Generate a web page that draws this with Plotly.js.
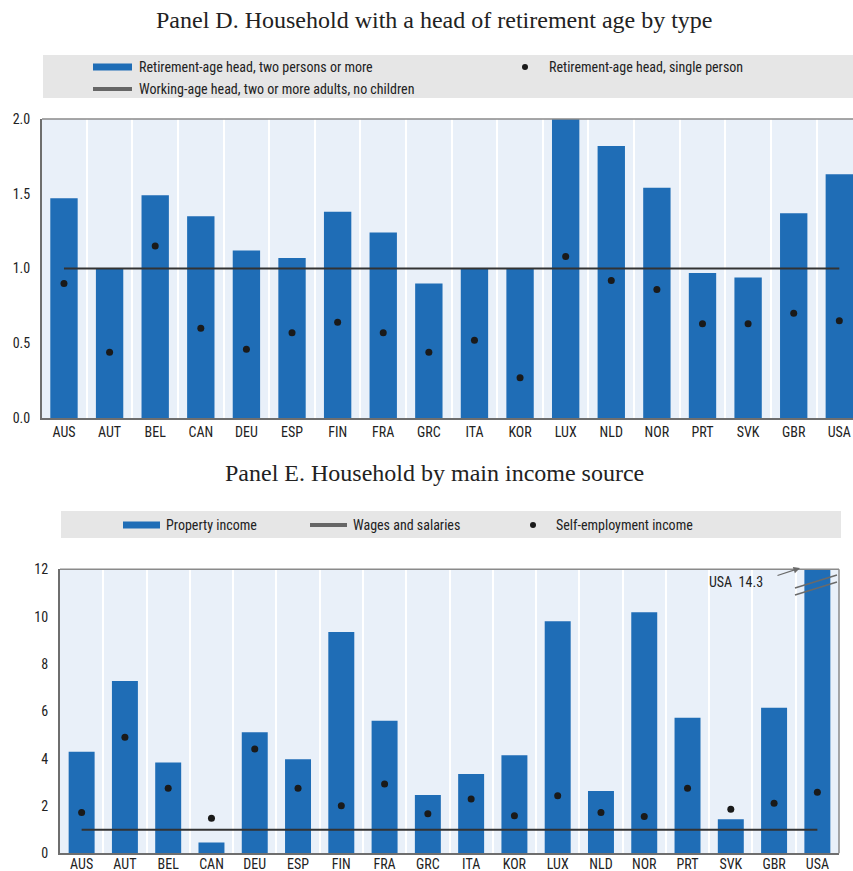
<!DOCTYPE html>
<html>
<head>
<meta charset="utf-8">
<script src="https://cdn.plot.ly/plotly-3.0.1.min.js"></script>
<style>html,body{margin:0;padding:0;background:#fff}#chart{width:853px;height:871px}</style>
</head>
<body>
<div id="chart"></div>
<script>
// ---- Data ----
const countries = ["AUS","AUT","BEL","CAN","DEU","ESP","FIN","FRA","GRC","ITA","KOR","LUX","NLD","NOR","PRT","SVK","GBR","USA"];

// Panel D
const retTwoPlus = [1.47,1.00,1.49,1.35,1.12,1.07,1.38,1.24,0.90,1.00,1.00,2.00,1.82,1.54,0.97,0.94,1.37,1.63];
const retSingle  = [0.90,0.44,1.15,0.60,0.46,0.57,0.64,0.57,0.44,0.52,0.27,1.08,0.92,0.86,0.63,0.63,0.70,0.65];
const workingAgeRef = [1,1,1,1,1,1,1,1,1,1,1,1,1,1,1,1,1,1];

// Panel E
const propertyIncome = [4.29,7.28,3.84,0.46,5.11,3.97,9.35,5.60,2.46,3.35,4.14,9.81,2.63,10.18,5.73,1.44,6.15,14.3];
const selfEmployment = [1.72,4.90,2.75,1.48,4.41,2.75,2.01,2.93,1.67,2.29,1.59,2.43,1.72,1.55,2.75,1.86,2.11,2.58];
const wagesRef = [1,1,1,1,1,1,1,1,1,1,1,1,1,1,1,1,1,1];

const titleD = "Panel D. Household with a head of retirement age by type";
const titleE = "Panel E. Household by main income source";
const legD = ["Retirement-age head, two persons or more","Working-age head, two or more adults, no children","Retirement-age head, single person"];
const legE = ["Property income","Wages and salaries","Self-employment income"];
const yTicksD = [0,0.5,1,1.5,2];
const yTicksE = [0,2,4,6,8,10,12];

// ---- Styling ----
const W = 853, H = 871;
const px = x => x / W;
const py = y => 1 - y / H;
const BLUE = "#1f6db6";
const DOT = "#1a1a1a";
const LINE = "#333333";
const SANS = "'Liberation Sans Narrow','Arial Narrow','Roboto Condensed','Liberation Sans',Arial,sans-serif";
const SERIF = "'Liberation Serif','Times New Roman',serif";
const FS = 14;

const traces = [
  {type:"bar", x:countries, y:retTwoPlus, xaxis:"x", yaxis:"y", marker:{color:BLUE}, width:0.6, showlegend:false, name:legD[0]},
  {type:"scatter", mode:"lines", x:countries, y:workingAgeRef, xaxis:"x", yaxis:"y", line:{color:LINE, width:2}, showlegend:false, name:legD[1]},
  {type:"scatter", mode:"markers", x:countries, y:retSingle, xaxis:"x", yaxis:"y", marker:{color:DOT, size:7}, showlegend:false, name:legD[2]},
  {type:"bar", x:countries, y:propertyIncome, xaxis:"x2", yaxis:"y2", marker:{color:BLUE}, width:0.6, showlegend:false, name:legE[0]},
  {type:"scatter", mode:"lines", x:countries, y:wagesRef, xaxis:"x2", yaxis:"y2", line:{color:LINE, width:2}, showlegend:false, name:legE[1]},
  {type:"scatter", mode:"markers", x:countries, y:selfEmployment, xaxis:"x2", yaxis:"y2", marker:{color:DOT, size:7}, showlegend:false, name:legE[2]}
];

const xCommon = {
  type:"category", showgrid:true, gridcolor:"#ffffff", gridwidth:2, tickson:"boundaries",
  ticks:"", showline:true, linecolor:"#6e6e6e", linewidth:2, mirror:false,
  tickfont:{family:SANS, size:FS, color:"#222"}, zeroline:false, fixedrange:true
};
const yCommon = {
  showgrid:false, zeroline:false, ticks:"", showline:true, linecolor:"#6e6e6e", linewidth:2,
  tickfont:{family:SANS, size:FS, color:"#222"}, fixedrange:true, ticklabelstandoff:7
};

const layout = {
  width:W, height:H, margin:{l:0,r:0,t:0,b:0}, paper_bgcolor:"#ffffff", plot_bgcolor:"#e9f0f9",
  showlegend:false, bargap:0.4,
  xaxis:Object.assign({}, xCommon, {domain:[px(42), 1], range:[-0.482, 17.30], anchor:"y"}),
  yaxis:Object.assign({}, yCommon, {domain:[py(418), py(119)], range:[0,2], tickvals:yTicksD, tickformat:".1f", anchor:"x"}),
  xaxis2:Object.assign({}, xCommon, {domain:[px(60), px(839)], range:[-0.5, 17.5], anchor:"y2", ticklabelstandoff:-3}),
  yaxis2:Object.assign({}, yCommon, {domain:[py(853.3), py(569.3)], range:[0,12], tickvals:yTicksE, anchor:"x2"}),
  shapes:[
    // frame top/right
    {type:"line", xref:"paper", yref:"paper", x0:px(42), x1:1, y0:py(119), y1:py(119), line:{color:"#8a8a8a", width:1.5}},
    {type:"line", xref:"paper", yref:"paper", x0:px(60), x1:px(839), y0:py(569.3), y1:py(569.3), line:{color:"#8a8a8a", width:1.5}},
    {type:"line", xref:"paper", yref:"paper", x0:px(839), x1:px(839), y0:py(569.3), y1:py(853.3), line:{color:"#8a8a8a", width:1.5}},
    // legend bands
    {type:"rect", xref:"paper", yref:"paper", x0:px(43), x1:1, y0:py(98), y1:py(55), fillcolor:"#e6e6e6", line:{width:0}, layer:"below"},
    {type:"rect", xref:"paper", yref:"paper", x0:px(61), x1:px(841), y0:py(538), y1:py(511), fillcolor:"#e6e6e6", line:{width:0}, layer:"below"},
    // legend swatches D
    {type:"rect", xref:"paper", yref:"paper", x0:px(93), x1:px(132), y0:py(70.5), y1:py(63.5), fillcolor:BLUE, line:{width:0}},
    {type:"line", xref:"paper", yref:"paper", x0:px(93), x1:px(132), y0:py(89), y1:py(89), line:{color:"#666", width:4}},
    {type:"circle", xref:"paper", yref:"paper", x0:px(522), x1:px(528), y0:py(70), y1:py(64), fillcolor:DOT, line:{width:0}},
    // legend swatches E
    {type:"rect", xref:"paper", yref:"paper", x0:px(123), x1:px(160), y0:py(528.5), y1:py(521.5), fillcolor:BLUE, line:{width:0}},
    {type:"line", xref:"paper", yref:"paper", x0:px(310), x1:px(347), y0:py(525), y1:py(525), line:{color:"#666", width:4}},
    {type:"circle", xref:"paper", yref:"paper", x0:px(530), x1:px(536), y0:py(528), y1:py(522), fillcolor:DOT, line:{width:0}},
    // axis break marks on USA bar
    {type:"line", xref:"paper", yref:"paper", x0:px(795), x1:px(837), y0:py(588), y1:py(575), line:{color:"#6a6a6a", width:1.5}},
    {type:"line", xref:"paper", yref:"paper", x0:px(795), x1:px(837), y0:py(595), y1:py(582), line:{color:"#6a6a6a", width:1.5}}
  ],
  annotations:[
    {xref:"paper", yref:"paper", x:px(434), y:py(20), text:titleD, showarrow:false, font:{family:SERIF, size:24, color:"#222"}, xanchor:"center", yanchor:"middle"},
    {xref:"paper", yref:"paper", x:px(434), y:py(473), text:titleE, showarrow:false, font:{family:SERIF, size:24, color:"#222"}, xanchor:"center", yanchor:"middle"},
    {xref:"paper", yref:"paper", x:px(137), y:py(67), text:legD[0], showarrow:false, xanchor:"left", yanchor:"middle", font:{family:SANS, size:FS, color:"#222"}},
    {xref:"paper", yref:"paper", x:px(137), y:py(89), text:legD[1], showarrow:false, xanchor:"left", yanchor:"middle", font:{family:SANS, size:FS, color:"#222"}},
    {xref:"paper", yref:"paper", x:px(547), y:py(67), text:legD[2], showarrow:false, xanchor:"left", yanchor:"middle", font:{family:SANS, size:FS, color:"#222"}},
    {xref:"paper", yref:"paper", x:px(164), y:py(525), text:legE[0], showarrow:false, xanchor:"left", yanchor:"middle", font:{family:SANS, size:FS, color:"#222"}},
    {xref:"paper", yref:"paper", x:px(351), y:py(525), text:legE[1], showarrow:false, xanchor:"left", yanchor:"middle", font:{family:SANS, size:FS, color:"#222"}},
    {xref:"paper", yref:"paper", x:px(554), y:py(525), text:legE[2], showarrow:false, xanchor:"left", yanchor:"middle", font:{family:SANS, size:FS, color:"#222"}},
    {xref:"paper", yref:"paper", x:px(707), y:py(582), text:"USA&nbsp;&nbsp;" + propertyIncome[17].toFixed(1), showarrow:false, xanchor:"left", yanchor:"middle", font:{family:SANS, size:FS, color:"#222"}},
    {xref:"paper", yref:"paper", x:px(800), y:py(568), ax:-24, ay:8, text:"", showarrow:true, arrowhead:2, arrowsize:1, arrowwidth:1.3, arrowcolor:"#6a6a6a"}
  ]
};

Plotly.newPlot("chart", traces, layout, {displayModeBar:false, staticPlot:true});
</script>
</body>
</html>
